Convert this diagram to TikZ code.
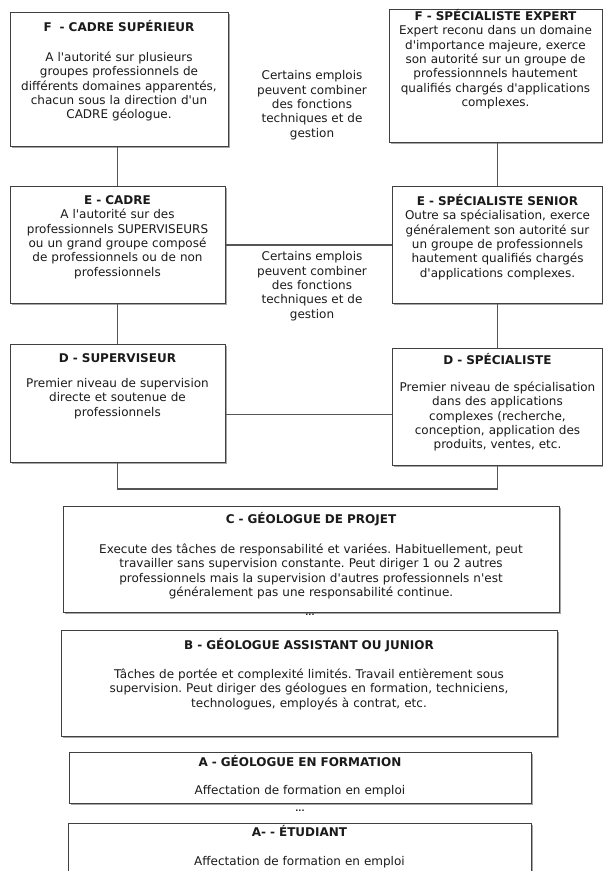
\documentclass[tikz,border=0pt]{standalone}
\usepackage{fontspec}
\setmainfont{DejaVu Sans}[Ligatures=TeXOff]
\usetikzlibrary{shadows}
\definecolor{bord}{HTML}{404040}
\definecolor{trait}{HTML}{555555}
\definecolor{encre}{HTML}{1A1A1A}
\tikzset{
  poste/.style n args={3}{draw=bord, line width=1pt, fill=white, text=encre,
    align=center, inner xsep=0pt, inner ysep=0pt, anchor=north,
    text width=#1, text height=#2, text depth=#3,
    font=\fontsize{12}{14.3}\selectfont\frenchspacing,
    drop shadow={shadow xshift=1.5pt, shadow yshift=-1.5pt, opacity=0.35, fill=black}},
  combi/.style={align=center, text=encre, inner sep=0pt, anchor=base,
    font=\fontsize{12}{14.3}\selectfont},
  points/.style={text=encre, inner sep=0pt, font=\fontsize{8}{8}\selectfont\bfseries},
  lien/.style={draw=trait, line width=1.1pt}
}
\begin{document}
\begin{tikzpicture}[x=1pt,y=-1pt]
  \useasboundingbox (0,0) rectangle (603,871);
  \draw
    (119,12) node[poste={218pt}{19pt}{115pt}] (Fcadre)
      {\textbf{F~ - CADRE SUPÉRIEUR}\\[15.7pt]
       A l'autorité sur plusieurs\\ groupes professionnels de\\
       différents domaines apparentés,\\ chacun sous la direction d'un\\
       CADRE géologue.}
    (495.5,9) node[poste={213pt}{11pt}{122pt}] (Fspec)
      {\textbf{F - SPÉCIALISTE EXPERT}\\
       Expert reconu dans un domaine\\ d'importance majeure, exerce\\
       son autorité sur un groupe de\\ professionnnels hautement\\
       qualifiés chargés d'applications\\ complexes.}
    (117.5,186) node[poste={215pt}{18pt}{99pt}] (Ecadre)
      {\textbf{E - CADRE}\\
       A l'autorité sur des\\ professionnels SUPERVISEURS\\
       ou un grand groupe composé\\ de professionnels ou de non\\
       professionnels}
    (497.5,186) node[poste={210pt}{19pt}{98pt}] (Espec)
      {\textbf{E - SPÉCIALISTE SENIOR}\\
       Outre sa spécialisation, exerce\\ généralement son autorité sur\\
       un groupe de professionnels\\ hautement qualifiés chargés\\
       d'applications complexes.}
    (117.5,344) node[poste={215pt}{18pt}{100pt}] (Dsup)
      {\textbf{D - SUPERVISEUR}\\[10.7pt]
       Premier niveau de supervision\\ directe et soutenue de\\
       professionnels}
    (497.5,348) node[poste={210pt}{16pt}{101pt}] (Dspec)
      {\textbf{D - SPÉCIALISTE}\\[12.7pt]
       Premier niveau de spécialisation\\ dans des applications\\
       complexes (recherche,\\ conception, application des\\
       produits, ventes, etc.}
    (311,506) node[poste={496pt}{17pt}{89pt}] (Cprojet)
      {\textbf{C - GÉOLOGUE DE PROJET}\\[15.7pt]
       Execute des tâches de responsabilité et variées. Habituellement, peut\\
       travailler sans supervision constante. Peut diriger 1 ou 2 autres\\
       professionnels mais la supervision d'autres professionnels n'est\\
       généralement pas une responsabilité continue.}
    (309,630) node[poste={496pt}{19pt}{87pt}] (Bjunior)
      {\textbf{B - GÉOLOGUE ASSISTANT OU JUNIOR}\\[14.7pt]
       Tâches de portée et complexité limités. Travail entièrement sous\\
       supervision. Peut diriger des géologues en formation, techniciens,\\
       technologues, employés à contrat, etc.}
    (300,752) node[poste={462pt}{14pt}{37pt}] (Aform)
      {\textbf{A - GÉOLOGUE EN FORMATION}\\[13.7pt]
       Affectation de formation en emploi}
    (299.5,823) node[poste={463pt}{13pt}{64pt}] (Aetud)
      {\textbf{A- - ÉTUDIANT}\\[14.7pt]
       Affectation de formation en emploi};
  % textes du milieu
  \node[combi] (combiE) at (312,137)
    {Certains emplois\\ peuvent combiner\\ des fonctions\\ techniques et de\\ gestion};
  \node[combi] (combiD) at (312,318)
    {Certains emplois\\ peuvent combiner\\ des fonctions\\ techniques et de\\ gestion};
  \node[points] (pointsC) at (310,615) {...};
  \node[points] (pointsA) at (300,811) {...};
  \coordinate (bas) at (0,489);
  \begin{scope}[lien]
    \draw (Ecadre.north |- Fcadre.south) to (Ecadre.north);
    \draw (Espec.north |- Fspec.south) to (Espec.north);
    \draw (Ecadre.east) to (Espec.west);
    \draw (Ecadre.south) to (Dsup.north);
    \draw (Espec.south) to (Dspec.north);
    \draw ([yshift=-11pt]Dsup.east) to ([yshift=-11pt]Dsup.east -| Dspec.west);
    \draw (Dsup.south) -- (Dsup.south |- bas) -| (Dspec.south);
  \end{scope}
\end{tikzpicture}
\end{document}
